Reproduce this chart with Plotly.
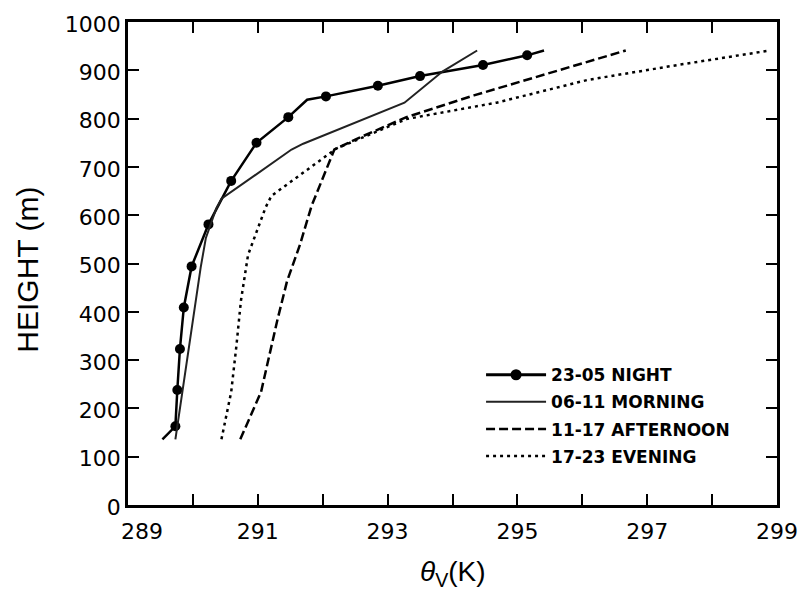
import plotly.graph_objects as go

# 23-05 NIGHT
night_theta = [289.53, 289.73, 289.76, 289.80, 289.86, 289.98, 290.24, 290.59, 290.98,
               291.47, 291.76, 292.05, 292.85, 293.50, 294.47, 295.15, 295.41]
night_height = [136, 163, 238, 323, 409, 494, 581, 671, 750,
                803, 839, 846, 868, 888, 911, 931, 941]
night_marker_theta = [289.73, 289.76, 289.80, 289.86, 289.98, 290.24, 290.59, 290.98,
                      291.47, 292.05, 292.85, 293.50, 294.47, 295.15]
night_marker_height = [163, 238, 323, 409, 494, 581, 671, 750,
                       803, 846, 868, 888, 911, 931]

# 06-11 MORNING
morning_theta = [289.73, 289.89, 289.97, 290.05, 290.12, 290.20, 290.36, 290.44,
                 291.52, 291.70, 293.26, 293.85, 294.38]
morning_height = [136, 280, 350, 423, 492, 553, 614, 634,
                  736, 748, 833, 898, 941]

# 11-17 AFTERNOON
afternoon_theta = [290.73, 291.05, 291.18, 291.30, 291.45, 291.65, 291.83, 292.18,
                   292.59, 293.29, 294.33, 295.38, 296.67]
afternoon_height = [136, 234, 311, 382, 463, 539, 620, 736,
                    762, 803, 848, 890, 941]

# 17-23 EVENING
evening_theta = [290.44, 290.59, 290.67, 290.74, 290.85, 291.12, 291.21, 292.21,
                 293.29, 294.68, 296.08, 297.47, 298.89]
evening_height = [136, 234, 329, 423, 518, 616, 640, 738,
                  799, 833, 880, 911, 941]

x_ticks = [289, 291, 293, 295, 297, 299]
x_tick_labels = ["\u2007\u2007289", "291", "293", "295", "297", "299"]
y_ticks = list(range(0, 1001, 100))

fig = go.Figure()

fig.add_trace(go.Scatter(x=night_theta, y=night_height, mode="lines",
                         line=dict(color="black", width=2.5),
                         showlegend=False, hoverinfo="skip"))
fig.add_trace(go.Scatter(x=night_marker_theta, y=night_marker_height, mode="markers",
                         marker=dict(color="black", size=10, symbol="circle"),
                         showlegend=False))
fig.add_trace(go.Scatter(x=[None], y=[None], mode="lines+markers", name="23-05 NIGHT",
                         line=dict(color="black", width=3),
                         marker=dict(color="black", size=11), legendgroup="a"))
fig.add_trace(go.Scatter(x=morning_theta, y=morning_height, mode="lines", name="06-11 MORNING",
                         line=dict(color="#222222", width=2), legendgroup="b"))
fig.add_trace(go.Scatter(x=afternoon_theta, y=afternoon_height, mode="lines",
                         name="11-17 AFTERNOON",
                         line=dict(color="black", width=2.5, dash="9px,4px"), legendgroup="c"))
fig.add_trace(go.Scatter(x=evening_theta, y=evening_height, mode="lines",
                         name="17-23 EVENING",
                         line=dict(color="black", width=2.5, dash="3px,4px"), legendgroup="d"))

axis_common = dict(showgrid=False, zeroline=False, showline=True, linecolor="black",
                   linewidth=2.5, mirror="ticks", ticks="inside", ticklen=11,
                   tickwidth=2, tickcolor="black",
                   tickfont=dict(family="DejaVu Sans", size=22, color="black"))

fig.update_xaxes(range=[289, 299], tickvals=x_ticks, ticktext=x_tick_labels,
                 ticklabelstandoff=5,
                 minor=dict(ticks="inside", tick0=289, dtick=1, ticklen=11,
                            tickwidth=2, tickcolor="black", showgrid=False),
                 **axis_common)
fig.update_yaxes(range=[0, 1000], tickvals=y_ticks, ticklabelshift=2, **axis_common)

fig.update_layout(
    width=810, height=601,
    margin=dict(l=128, r=22, t=13, b=96),
    paper_bgcolor="white", plot_bgcolor="white",
    legend=dict(x=0.544, y=0.306, xanchor="left", yanchor="top",
                font=dict(family="DejaVu Sans", size=17, color="black", weight="bold"),
                itemwidth=60, tracegroupgap=2, bgcolor="rgba(0,0,0,0)"),
    annotations=[
        dict(text="HEIGHT (m)", xref="paper", yref="paper", x=-0.155, y=0.488,
             textangle=-90, showarrow=False, xanchor="center", yanchor="middle",
             font=dict(family="Liberation Sans", size=30, color="black")),
        dict(text="<i>θ</i><sub>V</sub>(K)", xref="paper", yref="paper", x=0.5, y=-0.142,
             showarrow=False, xanchor="center", yanchor="middle",
             font=dict(family="Liberation Sans", size=28, color="black")),
    ],
)

fig.write_html("out.html")
